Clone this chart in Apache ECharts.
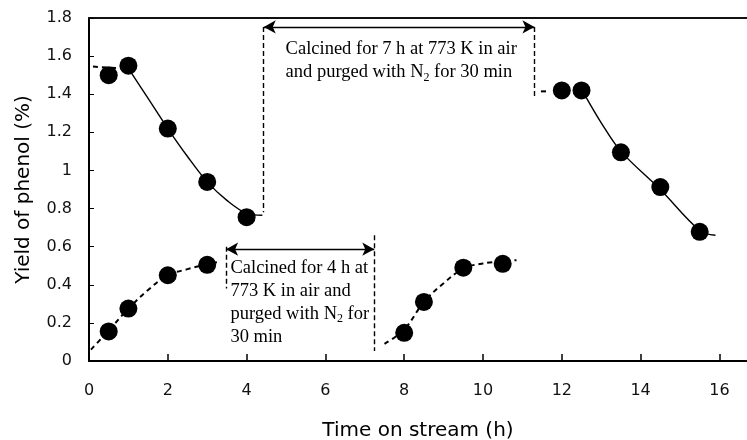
<!DOCTYPE html>
<html>
<head>
<meta charset="utf-8">
<script src="https://cdn.jsdelivr.net/npm/echarts@6/dist/echarts.min.js"></script>
<style>html,body{margin:0;padding:0;background:#fff}#c{width:747px;height:440px}</style>
</head>
<body>
<div id="c"></div>
<script>
// ---- measured points (Time on stream h, Yield of phenol %) ----
const timeRun1 = [0.5, 1, 2, 3, 4];
const yieldRun1 = [1.50, 1.55, 1.22, 0.94, 0.755];
const timeRun2 = [0.5, 1, 2, 3];
const yieldRun2 = [0.155, 0.275, 0.45, 0.505];
const timeRun3 = [8, 8.5, 9.5, 10.5];
const yieldRun3 = [0.148, 0.31, 0.49, 0.51];
const timeRun4 = [12, 12.5, 13.5, 14.5, 15.5];
const yieldRun4 = [1.42, 1.42, 1.095, 0.913, 0.678];

// ---- fitted trend curves ----
const fit1LeadX = [0.1, 0.85];
const fit1LeadY = [1.545, 1.535];
const fit1X = [1.05, 1.5, 2, 2.5, 3, 3.5, 4, 4.4];
const fit1Y = [1.52, 1.378, 1.22, 1.073, 0.94, 0.843, 0.775, 0.765];
const fit2X = [0.05, 0.5, 1, 1.5, 2, 2.5, 3, 3.3];
const fit2Y = [0.06, 0.16, 0.275, 0.373, 0.45, 0.482, 0.508, 0.52];
const fit3X = [7.5, 8, 8.5, 9, 9.5, 10, 10.85];
const fit3Y = [0.09, 0.165, 0.31, 0.408, 0.485, 0.512, 0.529];
const fit4LeadX = [11.47, 11.67];
const fit4LeadY = [1.415, 1.415];
const fit4X = [12.6, 13, 13.5, 14.5, 15.5, 15.9];
const fit4Y = [1.39, 1.25, 1.1, 0.9, 0.685, 0.66];

// ---- annotations ----
const arrowTopX = [4.435, 11.305];
const arrowTopY = 1.753;
const guideTopLeftY = [1.753, 0.78];
const guideTopRightY = [1.753, 1.38];
const arrowBotX = [3.48, 7.24];
const arrowBotY = 0.587;
const guideBotLeftY = [0.6, 0.38];
const guideBotRightY = [0.66, 0.052];
const noteTopPos = [4.99, 1.575];
const noteBotPos = [3.59, 0.308];
const noteTopText = 'Calcined for 7 h at 773 K in air\nand purged with N{sub|2} for 30 min';
const noteBotText = 'Calcined for 4 h at\n773 K in air and\npurged with N{sub|2} for\n30 min';

// ---- axis ----
const xTicks = [0, 2, 4, 6, 8, 10, 12, 14, 16];
const yTicks = [0, 0.2, 0.4, 0.6, 0.8, 1, 1.2, 1.4, 1.6, 1.8];

const zip = (a, b) => a.map((v, i) => [v, b[i]]);

const dots = (xs, ys) => ({
  type: 'scatter', data: zip(xs, ys), symbol: 'circle', symbolSize: 18,
  itemStyle: { color: '#000', opacity: 1 }, z: 5, silent: true
});
const curve = (xs, ys, dashed) => ({
  type: 'line', data: zip(xs, ys), smooth: 0.35, showSymbol: false, symbol: 'none',
  lineStyle: { color: '#000', width: dashed ? 2 : 1.4, type: dashed ? [5, 4] : 'solid' },
  z: 3, silent: true
});
const noteStyle = {
  show: true, position: 'right', distance: 0, align: 'left',
  fontFamily: '"Liberation Serif", "Times New Roman", serif', fontSize: 18.5,
  lineHeight: 23, color: '#000', opacity: 1,
  rich: { sub: { fontFamily: '"Liberation Serif", serif', fontSize: 12, lineHeight: 14, verticalAlign: 'bottom', color: '#000' } }
};

const chart = echarts.init(document.getElementById('c'), null, { renderer: 'canvas' });
chart.setOption({
  animation: false,
  backgroundColor: '#fff',
  grid: { left: 89, right: 0, top: 18, bottom: 79, containLabel: false, outerBoundsMode: 'none' },
  xAxis: [{
    type: 'value', min: 0, max: 16.7, interval: 2,
    name: 'Time on stream (h)', nameLocation: 'middle', nameGap: 60,
    nameTextStyle: { fontFamily: '"DejaVu Sans", sans-serif', fontSize: 20, color: '#000' },
    axisLine: { show: true, lineStyle: { color: '#000', width: 2 } },
    axisTick: { show: true, inside: true, length: 7, lineStyle: { color: '#000', width: 1.5 } },
    axisLabel: {
      margin: 22, fontFamily: '"DejaVu Sans", sans-serif', fontSize: 16, color: '#111',
      showMaxLabel: false,
      formatter: v => (xTicks.indexOf(v) >= 0 ? String(v) : '')
    },
    splitLine: { show: false }
  }, {
    type: 'value', min: 0, max: 16.7, position: 'top',
    axisLine: { show: true, lineStyle: { color: '#111', width: 2 } },
    axisTick: { show: false }, axisLabel: { show: false }, splitLine: { show: false }
  }],
  yAxis: {
    type: 'value', min: 0, max: 1.8, interval: 0.2,
    name: 'Yield of phenol (%)', nameLocation: 'middle', nameGap: 55,
    nameTextStyle: { fontFamily: '"DejaVu Sans", sans-serif', fontSize: 20, color: '#000' },
    axisLine: { show: true, lineStyle: { color: '#000', width: 2 } },
    axisTick: { show: true, inside: true, length: 5, lineStyle: { color: '#000', width: 1 } },
    axisLabel: {
      margin: 17, fontFamily: '"DejaVu Sans", sans-serif', fontSize: 16, color: '#111',
      formatter: v => {
        const t = yTicks.find(k => Math.abs(k - v) < 1e-6);
        return t === undefined ? '' : String(t);
      }
    },
    splitLine: { show: false }
  },
  series: [
    curve(fit1LeadX, fit1LeadY, true),
    curve(fit1X, fit1Y, false),
    curve(fit2X, fit2Y, true),
    curve(fit3X, fit3Y, true),
    curve(fit4LeadX, fit4LeadY, true),
    curve(fit4X, fit4Y, false),
    dots(timeRun1, yieldRun1),
    dots(timeRun2, yieldRun2),
    dots(timeRun3, yieldRun3),
    dots(timeRun4, yieldRun4),
    {
      type: 'line', data: [], silent: true,
      markLine: {
        silent: true, animation: false, symbol: ['arrow', 'arrow'], symbolSize: [10, 12],
        label: { show: false },
        lineStyle: { color: '#000', width: 1.3, type: 'solid' },
        data: [
          [{ coord: [arrowTopX[0], arrowTopY] }, { coord: [arrowTopX[1], arrowTopY] }],
          [{ coord: [arrowBotX[0], arrowBotY] }, { coord: [arrowBotX[1], arrowBotY] }]
        ]
      }
    },
    {
      type: 'line', data: [], silent: true,
      markLine: {
        silent: true, animation: false, symbol: ['none', 'none'],
        label: { show: false },
        lineStyle: { color: '#000', width: 1.4, type: [5, 3] },
        data: [
          [{ coord: [arrowTopX[0], guideTopLeftY[0]] }, { coord: [arrowTopX[0], guideTopLeftY[1]] }],
          [{ coord: [arrowTopX[1], guideTopRightY[0]] }, { coord: [arrowTopX[1], guideTopRightY[1]] }],
          [{ coord: [arrowBotX[0], guideBotLeftY[0]] }, { coord: [arrowBotX[0], guideBotLeftY[1]] }],
          [{ coord: [arrowBotX[1], guideBotRightY[0]] }, { coord: [arrowBotX[1], guideBotRightY[1]] }]
        ]
      }
    },
    {
      type: 'scatter', symbolSize: 0, silent: true, z: 6,
      itemStyle: { opacity: 1 },
      data: [
        { value: noteTopPos, label: Object.assign({}, noteStyle, { formatter: noteTopText }) },
        { value: noteBotPos, label: Object.assign({}, noteStyle, { formatter: noteBotText }) }
      ]
    }
  ]
});
</script>
</body>
</html>
